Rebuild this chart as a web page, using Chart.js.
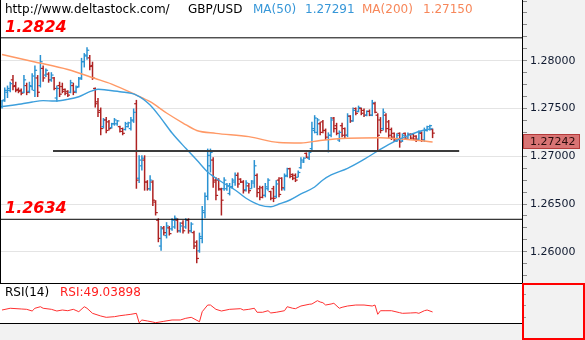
<!DOCTYPE html>
<html>
<head>
<meta charset="utf-8">
<script src="https://cdn.jsdelivr.net/npm/chart.js@4.4.1/dist/chart.umd.min.js"></script>
<style>
  body { margin: 0; background: #fff; }
  #cadre { position: relative; width: 585px; height: 340px; overflow: hidden; font-family: "DejaVu Sans", sans-serif; }
  #graphPrix { position: absolute; left: 0; top: 0; }
  #graphRsi { position: absolute; left: 0; top: 283px; }
  .txt { position: absolute; font-size: 12px; line-height: 12px; white-space: nowrap; color: #000; }
  .ma50 { color: #3797d8; }
  .ma200 { color: #f7875a; }
</style>
</head>
<body>
<div id="cadre">
  <canvas id="graphPrix" width="585" height="283"></canvas>
  <canvas id="graphRsi" width="585" height="57"></canvas>
  <div class="txt" style="left:5px;top:3px">http://www.deltastock.com/</div>
  <div class="txt" id="symbole" style="left:188px;top:3px"></div>
  <div class="txt ma50" style="left:253px;top:3px">MA(50)</div>
  <div class="txt ma50" id="valMa50" style="left:305px;top:3px"></div>
  <div class="txt ma200" style="left:362px;top:3px">MA(200)</div>
  <div class="txt ma200" id="valMa200" style="left:423px;top:3px"></div>
  <div class="txt" style="left:5px;top:286px">RSI(14)</div>
  <div class="txt" id="valRsi" style="left:60px;top:286px;color:#ff2020"></div>
</div>
<script>
const symbole = "GBP/USD";

// barres OHLC (ouverture, plus haut, plus bas, clôture)
const ouv = [1.2752,1.2759,1.2767,1.2769,1.2780,1.2774,1.2770,1.2769,1.2767,1.2774,
  1.2768,1.2773,1.2769,1.2782,1.2774,1.2792,1.2785,1.2786,1.2780,1.2782,
  1.2761,1.2774,1.2773,1.2770,1.2768,1.2767,1.2774,1.2768,1.2773,1.2782,
  1.2799,1.2805,1.2803,1.2795,1.2771,1.2757,1.2748,1.2731,1.2738,1.2736,
  1.2730,1.2734,1.2734,1.2731,1.2729,1.2728,1.2731,1.2729,1.2737,1.2755,
  1.2677,1.2690,1.2696,1.2673,1.2666,1.2673,1.2652,1.2633,1.2606,1.2625,
  1.2617,1.2625,1.2624,1.2626,1.2633,1.2622,1.2630,1.2626,1.2633,1.2622,
  1.2620,1.2610,1.2601,1.2614,1.2641,1.2658,1.2690,1.2696,1.2675,1.2675,
  1.2665,1.2666,1.2666,1.2661,1.2668,1.2673,1.2680,1.2676,1.2673,1.2665,
  1.2669,1.2666,1.2672,1.2680,1.2666,1.2667,1.2659,1.2666,1.2663,1.2666,
  1.2658,1.2675,1.2677,1.2666,1.2680,1.2687,1.2681,1.2680,1.2678,1.2688,
  1.2694,1.2703,1.2698,1.2708,1.2727,1.2725,1.2734,1.2736,1.2727,1.2706,
  1.2722,1.2740,1.2732,1.2717,1.2732,1.2729,1.2722,1.2742,1.2737,1.2750,
  1.2747,1.2750,1.2748,1.2743,1.2747,1.2743,1.2755,1.2743,1.2738,1.2729,
  1.2743,1.2736,1.2728,1.2724,1.2716,1.2724,1.2716,1.2724,1.2718,1.2723,
  1.2723,1.2721,1.2718,1.2724,1.2717,1.2727,1.2728,1.2728];
const haut = [1.2759,1.2772,1.2774,1.2778,1.2785,1.2778,1.2772,1.2771,1.2785,1.2777,
  1.2778,1.2787,1.2795,1.2785,1.2806,1.2795,1.2792,1.2788,1.2788,1.2783,
  1.2774,1.2778,1.2777,1.2771,1.2769,1.2780,1.2777,1.2774,1.2783,1.2803,
  1.2808,1.2814,1.2806,1.2799,1.2772,1.2761,1.2751,1.2740,1.2741,1.2738,
  1.2735,1.2740,1.2738,1.2732,1.2730,1.2736,1.2736,1.2741,1.2750,1.2759,
  1.2701,1.2701,1.2701,1.2675,1.2680,1.2675,1.2654,1.2635,1.2627,1.2627,
  1.2631,1.2627,1.2635,1.2638,1.2635,1.2631,1.2633,1.2635,1.2635,1.2631,
  1.2622,1.2612,1.2620,1.2648,1.2662,1.2708,1.2708,1.2699,1.2678,1.2677,
  1.2667,1.2678,1.2672,1.2672,1.2677,1.2683,1.2683,1.2677,1.2675,1.2675,
  1.2672,1.2675,1.2696,1.2682,1.2669,1.2669,1.2672,1.2677,1.2664,1.2669,
  1.2675,1.2678,1.2678,1.2682,1.2688,1.2688,1.2682,1.2682,1.2685,1.2699,
  1.2699,1.2704,1.2706,1.2736,1.2743,1.2740,1.2736,1.2738,1.2729,1.2725,
  1.2741,1.2741,1.2735,1.2727,1.2735,1.2730,1.2745,1.2743,1.2751,1.2751,
  1.2753,1.2751,1.2750,1.2748,1.2749,1.2759,1.2757,1.2745,1.2741,1.2750,
  1.2745,1.2738,1.2730,1.2725,1.2724,1.2725,1.2724,1.2725,1.2725,1.2724,
  1.2724,1.2722,1.2727,1.2726,1.2730,1.2732,1.2733,1.2729];
const bas = [1.2750,1.2757,1.2761,1.2767,1.2769,1.2767,1.2766,1.2764,1.2766,1.2764,
  1.2766,1.2769,1.2762,1.2762,1.2772,1.2778,1.2783,1.2777,1.2778,1.2769,
  1.2757,1.2762,1.2766,1.2764,1.2762,1.2766,1.2764,1.2766,1.2772,1.2780,
  1.2793,1.2801,1.2790,1.2780,1.2751,1.2741,1.2722,1.2729,1.2724,1.2727,
  1.2729,1.2732,1.2732,1.2725,1.2722,1.2727,1.2730,1.2727,1.2735,1.2666,
  1.2672,1.2685,1.2664,1.2664,1.2664,1.2648,1.2638,1.2610,1.2601,1.2617,
  1.2614,1.2617,1.2622,1.2624,1.2620,1.2620,1.2619,1.2624,1.2619,1.2620,
  1.2603,1.2588,1.2599,1.2609,1.2635,1.2654,1.2683,1.2667,1.2654,1.2664,
  1.2638,1.2664,1.2664,1.2659,1.2666,1.2669,1.2667,1.2672,1.2661,1.2663,
  1.2661,1.2666,1.2667,1.2657,1.2654,1.2656,1.2657,1.2664,1.2654,1.2652,
  1.2656,1.2657,1.2664,1.2664,1.2678,1.2677,1.2675,1.2673,1.2678,1.2687,
  1.2693,1.2698,1.2696,1.2706,1.2724,1.2722,1.2722,1.2724,1.2717,1.2704,
  1.2720,1.2725,1.2722,1.2715,1.2720,1.2719,1.2720,1.2735,1.2736,1.2743,
  1.2746,1.2743,1.2741,1.2742,1.2742,1.2742,1.2745,1.2706,1.2724,1.2727,
  1.2725,1.2719,1.2717,1.2715,1.2715,1.2709,1.2715,1.2717,1.2717,1.2717,
  1.2717,1.2715,1.2717,1.2715,1.2715,1.2726,1.2727,1.2719];
const ferm = [1.2758,1.2769,1.2771,1.2776,1.2773,1.2769,1.2768,1.2766,1.2780,1.2767,
  1.2774,1.2784,1.2790,1.2767,1.2799,1.2782,1.2790,1.2780,1.2785,1.2771,
  1.2771,1.2765,1.2768,1.2766,1.2764,1.2777,1.2767,1.2772,1.2781,1.2799,
  1.2806,1.2811,1.2794,1.2782,1.2755,1.2746,1.2729,1.2738,1.2727,1.2729,
  1.2734,1.2738,1.2737,1.2726,1.2724,1.2734,1.2735,1.2738,1.2746,1.2675,
  1.2696,1.2698,1.2673,1.2666,1.2675,1.2654,1.2641,1.2614,1.2624,1.2620,
  1.2627,1.2619,1.2633,1.2635,1.2622,1.2627,1.2622,1.2633,1.2622,1.2629,
  1.2606,1.2593,1.2616,1.2643,1.2658,1.2701,1.2704,1.2673,1.2659,1.2666,
  1.2654,1.2675,1.2669,1.2668,1.2675,1.2680,1.2671,1.2673,1.2664,1.2672,
  1.2664,1.2674,1.2690,1.2662,1.2657,1.2659,1.2668,1.2675,1.2656,1.2656,
  1.2671,1.2660,1.2667,1.2679,1.2687,1.2679,1.2677,1.2675,1.2683,1.2696,
  1.2698,1.2699,1.2704,1.2729,1.2740,1.2738,1.2725,1.2727,1.2720,1.2722,
  1.2738,1.2729,1.2724,1.2725,1.2722,1.2722,1.2742,1.2737,1.2748,1.2745,
  1.2751,1.2745,1.2743,1.2747,1.2743,1.2756,1.2746,1.2722,1.2727,1.2746,
  1.2729,1.2722,1.2720,1.2717,1.2722,1.2715,1.2722,1.2719,1.2723,1.2719,
  1.2718,1.2717,1.2725,1.2717,1.2727,1.2731,1.2732,1.27242];

// moyennes mobiles (indice de barre, valeur)
const ma50Idx = [0,7,11,15,19,24,28,32,35,38,43,49,54,58,62,67,71,75,80,85,89,94,98,101,105,109,114,117,120,126,132,137,143,148,153,157];
const ma50 = [1.27521,1.27547,1.27568,1.27582,1.27578,1.27596,1.27623,1.27676,1.27701,1.27694,1.27676,1.27641,1.27537,1.27397,1.27243,1.27083,1.26961,1.26835,1.26733,1.26647,1.26560,1.26489,1.26472,1.26500,1.26542,1.26605,1.26678,1.26751,1.26804,1.26874,1.26968,1.27055,1.27154,1.27217,1.27267,1.27291];
const ma200Idx = [0,12,24,34,40,49,54,60,66,71,78,90,101,109,116,126,138,150,157];
const ma200 = [1.28065,1.27987,1.27908,1.27814,1.27756,1.27641,1.27571,1.27453,1.27348,1.27270,1.27240,1.27205,1.27144,1.27139,1.27165,1.27188,1.27194,1.27170,1.27150];

// RSI(14)
const rsiIdx = [0,3,7,9,11,12,14,15,18,20,22,24,26,28,30,31,33,36,38,41,43,45,47,49,50,51,53,55,56,59,62,65,67,69,72,73,75,76,78,80,83,87,88,90,92,93,95,97,98,100,103,104,106,107,109,112,113,115,116,117,118,120,121,123,124,126,129,132,135,136,137,138,140,142,145,146,149,151,152,154,155,157];
const rsi = [52.4,55.4,54.2,53.6,50.7,55.4,58.1,55.4,53.6,50.7,52.4,51.2,53.6,49.5,58.1,55.4,46.7,42.1,39.8,40.9,42.6,43.8,45.0,46.7,30.5,35.2,33.5,31.7,30.5,32.9,35.2,35.2,38.1,39.8,32.2,49.5,61.0,61.0,53.6,50.7,53.6,54.7,52.4,53.6,55.4,48.5,48.5,51.2,47.3,48.5,51.2,58.1,55.4,54.7,59.3,62.3,62.8,68.5,66.2,65.0,61.0,62.8,64.0,55.4,57.1,59.3,61.0,61.0,59.3,61.0,45.0,51.2,51.2,51.2,47.8,46.7,47.3,47.8,46.7,51.2,52.4,49.03898];

// niveaux horizontaux
const niveaux = [1.2824, 1.2634];
const support = 1.27055;
const supportDebut = 18.6, supportFin = 166.7;

// fenêtre visible en indices de barres (marge à droite pour les barres futures)
const xMin = -0.73, xMax = 189.6;
// pas de graduation majeure dans la zone du titre
const echelleHaut = 1.2830;

const bleu = "#2a92d2";
const rouge = "#ae2222";
const dernier = ferm[ferm.length - 1];

Chart.defaults.font.family = '"DejaVu Sans", sans-serif';

document.getElementById("symbole").textContent = symbole;
document.getElementById("valMa50").textContent = ma50[ma50.length - 1].toFixed(5);
document.getElementById("valMa200").textContent = ma200[ma200.length - 1].toFixed(5);
document.getElementById("valRsi").textContent = "RSI:" + rsi[rsi.length - 1].toFixed(5);

const idx = ouv.map((_, i) => i);
const couleurs = idx.map(i => (ferm[i] >= ouv[i] ? bleu : rouge));

function estMajeur(v) {
  return v < echelleHaut && Math.round(v * 100000) % 500 === 0;
}

// axe de droite à largeur fixe, sans marge haute/basse
function axeFixe(s) {
  s.width = 63;
  s.paddingTop = 0;
  s.paddingBottom = 0;
}

function tiret(valeurs, rotation) {
  return {
    type: "line",
    data: idx.map(i => ({ x: i, y: valeurs[i] })),
    showLine: false,
    pointStyle: "dash",
    pointRotation: rotation,
    pointRadius: 2.2,
    pointBorderWidth: 1.2,
    pointBorderColor: couleurs,
    pointBackgroundColor: couleurs,
    pointHoverRadius: 0
  };
}

function ligne(points, couleur, epaisseur) {
  return {
    type: "line",
    data: points,
    borderColor: couleur,
    borderWidth: epaisseur,
    pointRadius: 0,
    fill: false
  };
}

// fond de l'axe, bord gauche, étiquettes des niveaux et dernier prix
const decorPrix = {
  id: "decorPrix",
  beforeDraw(chart) {
    const { ctx, chartArea: a, width, height } = chart;
    ctx.save();
    ctx.fillStyle = "#f2f2f2";
    ctx.fillRect(a.right, 0, width - a.right, height);
    ctx.restore();
  },
  afterDraw(chart) {
    const { ctx, chartArea: a } = chart;
    const y = chart.scales.y;
    ctx.save();
    ctx.strokeStyle = "#000";
    ctx.lineWidth = 1;
    ctx.beginPath();
    ctx.moveTo(a.left + 0.5, a.top);
    ctx.lineTo(a.left + 0.5, a.bottom);
    ctx.stroke();

    ctx.font = 'italic bold 16px "DejaVu Sans"';
    ctx.fillStyle = "#ff0000";
    ctx.textBaseline = "alphabetic";
    niveaux.forEach(v => ctx.fillText(v.toFixed(4), a.left + 5, y.getPixelForValue(v) - 6));

    const py = Math.round(y.getPixelForValue(dernier));
    ctx.fillStyle = "#d87474";
    ctx.fillRect(a.right + 1, py + 1, 57, 15);
    ctx.strokeStyle = "#b43a3a";
    ctx.strokeRect(a.right + 1.5, py + 1.5, 56, 14);
    ctx.fillStyle = "#2b0c0c";
    ctx.font = '11px "DejaVu Sans"';
    ctx.textBaseline = "middle";
    ctx.fillText(dernier.toFixed(5), a.right + 8, py + 9);
    ctx.restore();
  }
};

new Chart(document.getElementById("graphPrix"), {
  type: "bar",
  data: {
    datasets: [
      ...niveaux.map(v => ligne([{ x: xMin, y: v }, { x: xMax, y: v }], "#000", 1)),
      ligne([{ x: supportDebut, y: support }, { x: supportFin, y: support }], "#3c3c3c", 2),
      ligne(ma50Idx.map((i, k) => ({ x: i, y: ma50[k] })), "#3d9fdc", 1.4),
      ligne(ma200Idx.map((i, k) => ({ x: i, y: ma200[k] })), "#ff9966", 1.4),
      tiret(ouv, 180),
      tiret(ferm, 0),
      {
        type: "bar",
        data: idx.map(i => ({ x: i, y: [bas[i], haut[i]] })),
        backgroundColor: couleurs,
        borderWidth: 0,
        barThickness: 1.5,
        inflateAmount: 0
      }
    ]
  },
  options: {
    responsive: false,
    animation: false,
    events: [],
    layout: { padding: 0, autoPadding: false },
    plugins: { legend: { display: false }, tooltip: { enabled: false } },
    elements: { line: { tension: 0.35, cubicInterpolationMode: "monotone" } },
    scales: {
      x: { type: "linear", min: xMin, max: xMax, display: false, offset: false },
      y: {
        position: "right",
        min: 1.25673,
        max: 1.28636,
        afterFit: axeFixe,
        border: { display: true, color: "#000", width: 1 },
        grid: {
          color: c => (estMajeur(c.tick.value) ? "#e4e4e4" : "rgba(0,0,0,0)"),
          tickColor: "#8a8a8a",
          tickLength: 5
        },
        ticks: {
          stepSize: 0.00125,
          includeBounds: false,
          autoSkip: false,
          padding: 3,
          color: "#101a30",
          font: { size: 11, lineHeight: 0.1 },
          callback: v => (estMajeur(v) ? v.toFixed(5) : "")
        }
      }
    }
  },
  plugins: [decorPrix]
});

// panneau RSI : bandes grises, filets et cadre rouge de l'échelle
const decorRsi = {
  id: "decorRsi",
  beforeDraw(chart) {
    const { ctx, chartArea: a, width, height } = chart;
    ctx.save();
    ctx.fillStyle = "#f2f2f2";
    ctx.fillRect(a.right, 0, width - a.right, height);
    ctx.fillRect(0, a.bottom, a.right, height - a.bottom);
    ctx.restore();
  },
  afterDraw(chart) {
    const { ctx, chartArea: a, width, height } = chart;
    ctx.save();
    ctx.strokeStyle = "#000";
    ctx.lineWidth = 1;
    ctx.beginPath();
    ctx.moveTo(0, 0.5);
    ctx.lineTo(a.right, 0.5);
    ctx.moveTo(0, a.bottom + 0.5);
    ctx.lineTo(a.right, a.bottom + 0.5);
    ctx.stroke();
    ctx.strokeStyle = "#ff0000";
    ctx.lineWidth = 2;
    ctx.strokeRect(a.right + 1, 1, width - a.right - 2, height - 2);
    ctx.restore();
  }
};

new Chart(document.getElementById("graphRsi"), {
  type: "line",
  data: {
    datasets: [{
      data: rsiIdx.map((i, k) => ({ x: i, y: rsi[k] })),
      borderColor: "#ff3030",
      borderWidth: 1,
      pointRadius: 0,
      tension: 0
    }]
  },
  options: {
    responsive: false,
    animation: false,
    events: [],
    layout: { padding: { bottom: 17 }, autoPadding: false },
    plugins: { legend: { display: false }, tooltip: { enabled: false } },
    scales: {
      x: { type: "linear", min: xMin, max: xMax, display: false, offset: false },
      y: {
        position: "right",
        min: 30,
        max: 99,
        afterFit: axeFixe,
        border: { display: false },
        grid: { drawOnChartArea: false, tickColor: "#9a9a9a", tickLength: 4 },
        ticks: { stepSize: 20, includeBounds: false, autoSkip: false, font: { lineHeight: 0.1 }, callback: () => "" }
      }
    }
  },
  plugins: [decorRsi]
});
</script>
</body>
</html>
